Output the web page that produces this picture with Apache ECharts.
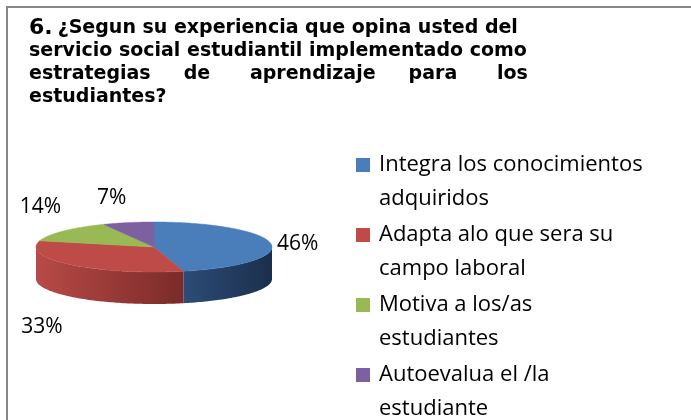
<!DOCTYPE html>
<html>
<head>
<meta charset="utf-8">
<script src="https://cdn.jsdelivr.net/npm/echarts@6/dist/echarts.min.js"></script>
<style>
html, body { margin: 0; padding: 0; background: #fff; }
#chart { width: 691px; height: 420px; }
</style>
</head>
<body>
<div id="chart"></div>
<script>
// datos de la grafica
var categorias = ['Integra los conocimientos adquiridos', 'Adapta alo que sera su campo laboral', 'Motiva a los/as estudiantes', 'Autoevalua el /la estudiante']
var leyenda = ['Integra los conocimientos\nadquiridos', 'Adapta alo que sera su\ncampo laboral', 'Motiva a los/as\nestudiantes', 'Autoevalua el /la\nestudiante']
var porcentajes = [46, 33, 14, 7]
var etiquetas = ['46%', '33%', '14%', '7%']
var numero = '6.'
var titulo = [
	'¿Segun su experiencia que opina usted del',
	'servicio social estudiantil implementado como',
	'estrategias     de      aprendizaje     para      los',
	'estudiantes?'
]

var colores = ['#4a7ebb', '#be4b48', '#98b954', '#7d60a0']
var lados = [
	['#2d4c78', '#1b2f4c'],
	['#b84a46', '#7a2b29'],
	['#7d9a45', '#62793a'],
	['#654d85', '#4f3c69']
]

// geometria del pastel 3d
var cx = 154, cy = 247, rx = 118, ry = 25, h = 32

var total = porcentajes.reduce(function (a, b) { return a + b }, 0)
var acumulado = 0
var tramos = porcentajes.map(function (v) {
	var t = [acumulado / total, (acumulado + v) / total]
	acumulado += v
	return t
})

function punto(t, dy) {
	return [cx + rx * Math.sin(t), cy - ry * Math.cos(t) + (dy || 0)]
}

function rebanada(i) {
	return function (params, api) {
		var t0 = api.value(0) * 2 * Math.PI
		var t1 = api.value(1) * 2 * Math.PI
		var hijos = []
		// cara lateral visible (mitad delantera)
		var a = Math.max(t0, Math.PI / 2), b = Math.min(t1, 3 * Math.PI / 2)
		if (b > a) {
			var m = Math.ceil((b - a) / 0.02), sup = [], inf = []
			for (var k = 0; k <= m; k++) {
				var t = a + (b - a) * k / m
				sup.push(punto(t))
				inf.unshift(punto(t, h))
			}
			var xs = sup.map(function (p) { return p[0] })
			var x0 = Math.min.apply(null, xs), x1 = Math.max.apply(null, xs)
			hijos.push({
				type: 'polygon',
				shape: { points: sup.concat(inf) },
				style: {
					fill: new echarts.graphic.LinearGradient(x0, 0, x1, 0, [
						{ offset: 0, color: lados[i][0] },
						{ offset: 1, color: lados[i][1] }
					], true)
				}
			})
		}
		// cara superior
		var n = Math.max(2, Math.ceil((t1 - t0) / 0.02)), arco = [[cx, cy]]
		for (var j = 0; j <= n; j++) arco.push(punto(t0 + (t1 - t0) * j / n))
		hijos.push({
			type: 'polygon',
			shape: { points: arco },
			style: { fill: colores[i], stroke: colores[i], lineWidth: 0.5 }
		})
		// etiqueta de porcentaje
		var tm = (t0 + t1) / 2, s = Math.sin(tm), c = Math.cos(tm)
		var p = punto(tm, c < 0 ? h : 0)
		var va = 'middle', dy = 0, dx = s > 0 ? 6 : -2
		if (c > 0.3) { va = 'bottom'; dy = -14 }
		else if (c < -0.3) { va = 'top'; dy = 20; dx = -8 }
		hijos.push({
			type: 'text',
			x: p[0] + dx,
			y: p[1] + dy,
			style: {
				text: etiquetas[i],
				align: s > 0 ? 'left' : 'right',
				verticalAlign: va,
				fontFamily: 'Open Sans',
				fontSize: 21,
				fill: '#000'
			}
		})
		return { type: 'group', children: hijos }
	}
}

var myChart = echarts.init(document.getElementById('chart'))
var option = {
	animation: false,
	graphic: [{
		type: 'rect',
		shape: { x: 7, y: 7, width: 720, height: 450 },
		style: { fill: 'none', stroke: '#868686', lineWidth: 2 }
	}],
	title: {
		left: 29,
		top: 17,
		padding: 0,
		text: '{n|' + numero + '} ' + titulo.map(function (l) { return '{b|' + l + '}' }).join('\n'),
		textStyle: {
			rich: {
				n: { fontFamily: 'DejaVu Sans', fontWeight: 'bold', fontSize: 22, lineHeight: 23, color: '#000' },
				b: { fontFamily: 'DejaVu Sans', fontWeight: 'bold', fontSize: 19, lineHeight: 23, color: '#000' }
			}
		}
	},
	legend: {
		orient: 'vertical',
		left: 356,
		top: 114,
		height: 400,
		padding: 0,
		itemGap: -32,
		itemWidth: 14,
		itemHeight: 14,
		icon: 'rect',
		selectedMode: false,
		data: categorias,
		formatter: function (name) {
			return '\n' + leyenda[categorias.indexOf(name)]
		},
		textStyle: { fontFamily: 'Open Sans', fontSize: 22, lineHeight: 34, color: '#000', padding: [0, 0, 0, 4] }
	},
	series: categorias.map(function (nombre, i) {
		return {
			type: 'custom',
			name: nombre,
			coordinateSystem: 'none',
			itemStyle: { color: colores[i] },
			renderItem: rebanada(i),
			data: [tramos[i]]
		}
	})
}
myChart.setOption(option)
</script>
</body>
</html>
